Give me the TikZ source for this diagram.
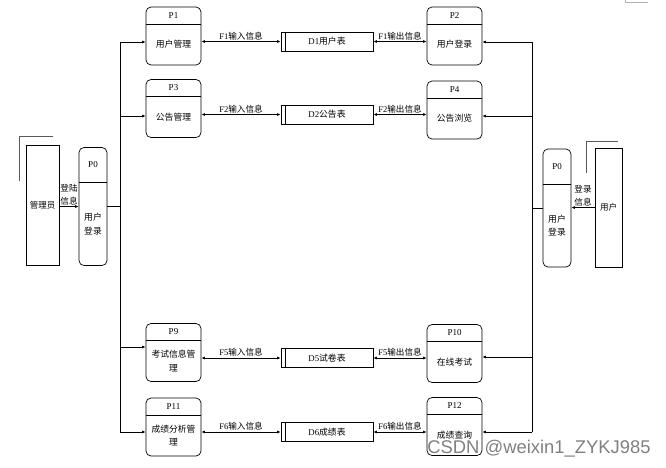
\documentclass[tikz,border=0pt]{standalone}
\usepackage{fontspec}
\setmainfont{Liberation Serif}
\newfontfamily\cjk{Noto Sans CJK SC}
\newfontfamily\wmfont{Liberation Sans}
\newcommand\zh[1]{{\cjk #1}}
\usetikzlibrary{arrows.meta}

\begin{document}
\begin{tikzpicture}[x=1pt,y=-1pt,line width=0.7pt,
    proc/.style={draw,rounded corners=5pt,minimum width=55pt,minimum height=58pt,inner sep=0pt,
      path picture={\draw ([yshift=-#1]path picture bounding box.north west) -- ([yshift=-#1]path picture bounding box.north east);}},
    proc/.default=17pt,
    ptitle/.style={font=\fontsize{9}{10}\selectfont,inner sep=0pt},
    ptext/.style={font=\fontsize{8.8}{13.5}\selectfont,align=center,inner sep=0pt},
    store/.style={draw,minimum width=92pt,minimum height=19pt,inner sep=0pt,font=\fontsize{8.8}{10}\selectfont},
    entity/.style={draw,minimum width=33pt,minimum height=120pt,inner sep=0pt,font=\fontsize{8.5}{10}\selectfont},
    shadowline/.style={draw=black!65,line width=1.3pt},
    flow/.style={{Latex[length=3.5pt,width=3pt]}-{Latex[length=3.5pt,width=3pt]}},
    arrow/.style={-{Latex[length=3.5pt,width=3pt]}},
    flowlabel/.style={above,inner sep=1pt,font=\fontsize{8.6}{10}\selectfont},
    loglabel/.style={above,inner sep=1pt,align=center,font=\fontsize{8.6}{13}\selectfont}
  ]
    \useasboundingbox (0,0) rectangle (666,467);

    % left processes
    \node[proc] (p1) at (173.5,36) {};
    \node[ptitle] at ([yshift=-8.5pt]p1.north) {P1};
    \node[ptext] at ([yshift=-8.5pt]p1.center) {\zh{用户管理}};
    \node[proc] (p3) at (173.5,108.5) {};
    \node[ptitle] at ([yshift=-8.5pt]p3.north) {P3};
    \node[ptext] at ([yshift=-8.5pt]p3.center) {\zh{公告管理}};
    \node[proc] (p9) at (173.5,352.5) {};
    \node[ptitle] at ([yshift=-8.5pt]p9.north) {P9};
    \node[ptext] at ([yshift=-8.5pt]p9.center) {\zh{考试信息管}\\\zh{理}};
    \node[proc] (p11) at (173.5,427) {};
    \node[ptitle] at ([yshift=-8.5pt]p11.north) {P11};
    \node[ptext] at ([yshift=-8.5pt]p11.center) {\zh{成绩分析管}\\\zh{理}};

    % right processes
    \node[proc] (p2) at (454.5,36) {};
    \node[ptitle] at ([yshift=-8.5pt]p2.north) {P2};
    \node[ptext] at ([yshift=-8.5pt]p2.center) {\zh{用户登录}};
    \node[proc] (p4) at (454.5,110) {};
    \node[ptitle] at ([yshift=-8.5pt]p4.north) {P4};
    \node[ptext] at ([yshift=-8.5pt]p4.center) {\zh{公告浏览}};
    \node[proc] (p10) at (454.5,353.5) {};
    \node[ptitle] at ([yshift=-8.5pt]p10.north) {P10};
    \node[ptext] at ([yshift=-8.5pt]p10.center) {\zh{在线考试}};
    \node[proc] (p12) at (454.5,426.5) {};
    \node[ptitle] at ([yshift=-8.5pt]p12.north) {P12};
    \node[ptext] at ([yshift=-8.5pt]p12.center) {\zh{成绩查询}};

    % data stores
    \node[store] (d1) at (327,41.5) {D1\zh{用户表}};
    \node[store] (d2) at (327,114.5) {D2\zh{公告表}};
    \node[store] (d5) at (327,358) {D5\zh{试卷表}};
    \node[store] (d6) at (327,432) {D6\zh{成绩表}};
    \foreach \d in {d1,d2,d5,d6}
      \draw ([xshift=5pt]\d.north west) -- ([xshift=5pt]\d.south west);

    % flows
    \draw[flow] (d1.west -| p1.east) -- (d1.west) node[flowlabel,midway] {F1\zh{输入信息}};
    \draw[flow] (d1.east) -- (d1.east -| p2.west) node[flowlabel,midway] {F1\zh{输出信息}};
    \draw[flow] (d2.west -| p3.east) -- (d2.west) node[flowlabel,midway] {F2\zh{输入信息}};
    \draw[flow] (d2.east) -- (d2.east -| p4.west) node[flowlabel,midway] {F2\zh{输出信息}};
    \draw[flow] (d5.west -| p9.east) -- (d5.west) node[flowlabel,midway] {F5\zh{输入信息}};
    \draw[flow] (d5.east) -- (d5.east -| p10.west) node[flowlabel,midway] {F5\zh{输出信息}};
    \draw[flow] (d6.west -| p11.east) -- (d6.west) node[flowlabel,midway] {F6\zh{输入信息}};
    \draw[flow] (d6.east) -- (d6.east -| p12.west) node[flowlabel,midway] {F6\zh{输出信息}};

    % administrator side
    \node[entity] (admin) at (42.5,205) {\zh{管理员}};
    \draw[shadowline] ([shift={(-6,-8)}]admin.north east) -- ([shift={(-6,-8)}]admin.north west)
      -- ([shift={(-6,36)}]admin.north west);
    \node[proc=35pt,minimum width=28pt,minimum height=118pt] (lp0) at (93,206.5) {};
    \node[ptitle] at ([yshift=-17.5pt]lp0.north) {P0};
    \node[ptext] at ([yshift=-17.5pt]lp0.center) {\zh{用户}\\\zh{登录}};
    \draw[arrow] (lp0.west -| admin.east) -- (lp0.west) node[loglabel,midway] {\zh{登陆}\\\zh{信息}};

    \coordinate (lb1) at (120,42);
    \coordinate (lb2) at (120,116);
    \coordinate (lb3) at (120,347);
    \coordinate (lb4) at (120,432);
    \draw (lb1) -- (lb4);
    \draw (lp0.east) -- (lp0.east -| lb1);
    \foreach \i/\p in {1/p1,2/p3,3/p9,4/p11}
      \draw[arrow] (lb\i) -- (lb\i -| \p.west);

    % user side
    \node[entity,minimum width=27pt,minimum height=119pt] (user) at (608.5,207.5) {\zh{用户}};
    \draw[shadowline] ([shift={(-4,-6)}]user.north east) -- ([shift={(-8,-6)}]user.north west)
      -- ([shift={(-8,25)}]user.north west);
    \node[proc=35pt,minimum width=28pt,minimum height=118pt] (rp0) at (557,208) {};
    \node[ptitle] at ([yshift=-17.5pt]rp0.north) {P0};
    \node[ptext] at ([yshift=-17.5pt]rp0.center) {\zh{用户}\\\zh{登录}};
    \draw[arrow] (user.west) -- (user.west -| rp0.east) node[loglabel,midway] {\zh{登录}\\\zh{信息}};

    \coordinate (rb1) at (532,42);
    \coordinate (rb2) at (532,116);
    \coordinate (rb3) at (532,357);
    \coordinate (rb4) at (532,432);
    \draw (rb1) -- (rb4);
    \draw (rp0.west) -- (rp0.west -| rb1);
    \foreach \i/\p in {1/p2,2/p4,3/p10,4/p12}
      \draw[arrow] (rb\i) -- (rb\i -| \p.east);

    % page mark and watermark
    \draw[black!30,line width=0.5pt] (625,0) -- (625,2) -- (648,2);
    \node[anchor=base west,inner sep=0pt,text=black!50,font=\wmfont\fontsize{18.4}{20}\selectfont] (wm) at (427,453) {CSDN @weixin1\_ZYKJ985};
\end{tikzpicture}
\end{document}
